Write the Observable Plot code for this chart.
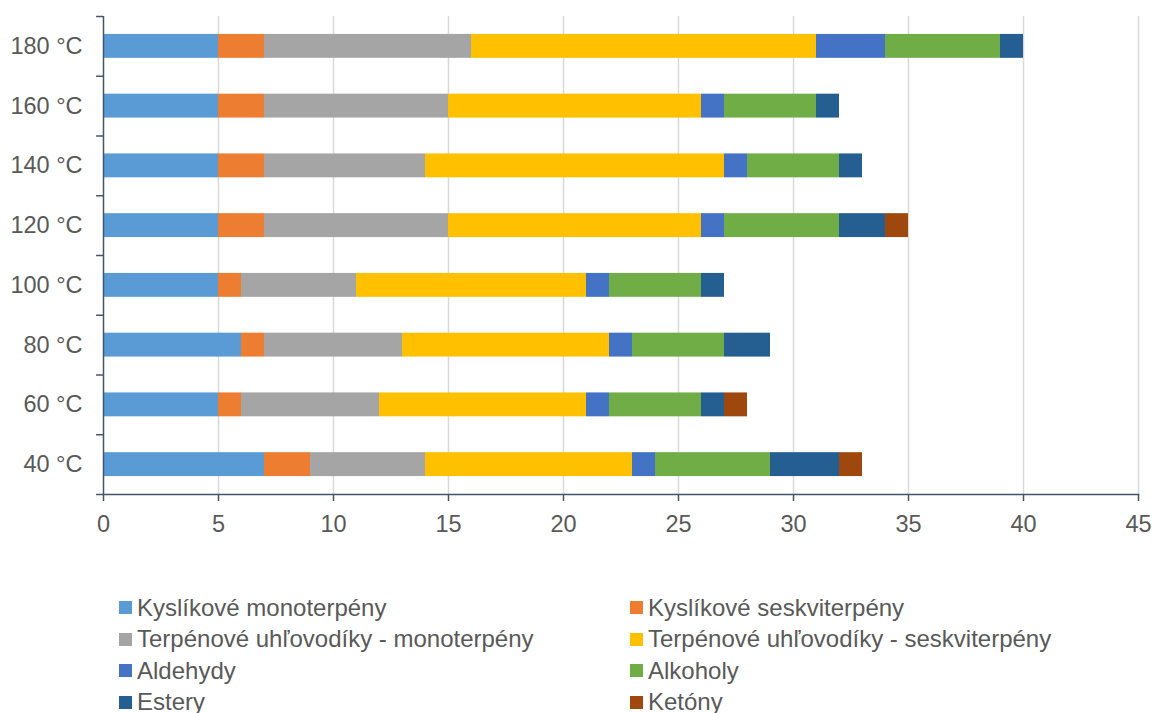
<!DOCTYPE html>
<html>
<head>
<meta charset="utf-8">
<script src="https://cdn.jsdelivr.net/npm/d3@7"></script>
<script src="https://cdn.jsdelivr.net/npm/@observablehq/plot@0.6"></script>
<style>
  html, body { margin: 0; padding: 0; background: #fff; overflow: hidden; }
  body { width: 1155px; height: 713px; font-family: "Liberation Sans", Arial, sans-serif; color: #595959; }
  #legend { display: grid; grid-template-columns: 511px auto; padding-left: 119px; margin-top: 47px; }
  .item { display: flex; align-items: center; height: 31.5px; font-size: 24px; white-space: nowrap; }
  .sw { width: 13px; height: 13px; margin-right: 5px; flex: none; }
</style>
</head>
<body>
<div id="chart"></div>
<div id="legend"></div>
<script>
const categories = ["40 °C", "60 °C", "80 °C", "100 °C", "120 °C", "140 °C", "160 °C", "180 °C"];
const seriesNames = [
  "Kyslíkové monoterpény",
  "Kyslíkové seskviterpény",
  "Terpénové uhľovodíky - monoterpény",
  "Terpénové uhľovodíky - seskviterpény",
  "Aldehydy",
  "Alkoholy",
  "Estery",
  "Ketóny"
];
const colors = ["#5B9BD5", "#ED7D31", "#A5A5A5", "#FFC000", "#4472C4", "#70AD47", "#255E91", "#9E480E"];
// values per series, in the order of categories (40 °C ... 180 °C)
const kyslikoveMono   = [7, 5, 6, 5, 5, 5, 5, 5];
const kyslikoveSeskvi = [2, 1, 1, 1, 2, 2, 2, 2];
const terpMono        = [5, 6, 6, 5, 8, 7, 8, 9];
const terpSeskvi      = [9, 9, 9, 10, 11, 13, 11, 15];
const aldehydy        = [1, 1, 1, 1, 1, 1, 1, 3];
const alkoholy        = [5, 4, 4, 4, 5, 4, 4, 5];
const estery          = [3, 1, 2, 1, 2, 1, 1, 1];
const ketony          = [1, 1, 0, 0, 1, 0, 0, 0];
const xTicks = [0, 5, 10, 15, 20, 25, 30, 35, 40, 45];

const seriesValues = [kyslikoveMono, kyslikoveSeskvi, terpMono, terpSeskvi, aldehydy, alkoholy, estery, ketony];
const data = [];
categories.forEach((c, ci) => {
  seriesNames.forEach((s, si) => {
    data.push({temp: c, series: s, value: seriesValues[si][ci]});
  });
});

const W = 1155, H = 545, mT = 16, mB = 51, mL = 103, mR = 17;
const step = (H - mT - mB) / categories.length;
const axisColor = "#44546A";
const textColor = "#595959";

const chart = Plot.plot({
  width: W, height: H,
  marginTop: mT, marginBottom: mB, marginLeft: mL, marginRight: mR,
  style: {fontFamily: "'Liberation Sans', Arial, sans-serif", fontSize: "23.5px", color: textColor, background: "#fff"},
  x: {domain: [0, 45], ticks: xTicks},
  y: {domain: categories.slice().reverse(), paddingInner: 0.6, paddingOuter: 0.3, round: false},
  color: {domain: seriesNames, range: colors},
  marks: [
    Plot.ruleX(xTicks.filter(d => d > 0), {stroke: "#D9D9D9", strokeWidth: 1.5}),
    Plot.barX(data, Plot.stackX({x: "value", y: "temp", fill: "series", order: seriesNames})),
    Plot.ruleY(categories, {y: d => d, x1: -0.3, x2: 0, dy: -step / 2, stroke: axisColor, strokeWidth: 1.5}),
    Plot.ruleY([categories[0]], {y: d => d, x1: -0.3, x2: 0, dy: step / 2, stroke: axisColor, strokeWidth: 1.5}),
    Plot.ruleX([0], {stroke: axisColor, strokeWidth: 1.5}),
    Plot.frame({anchor: "bottom", stroke: axisColor, strokeWidth: 1.5}),
    Plot.axisX({ticks: xTicks, tickSize: 7, tickPadding: 14, stroke: axisColor, strokeWidth: 1.5, fill: textColor, fontSize: 23.5, label: null}),
    Plot.axisY({tickSize: 0, tickPadding: 21, fill: textColor, fontSize: 23.5, label: null})
  ]
});
document.getElementById("chart").appendChild(chart);

const legend = document.getElementById("legend");
seriesNames.forEach((s, i) => {
  const item = document.createElement("div");
  item.className = "item";
  const sw = document.createElement("span");
  sw.className = "sw";
  sw.style.background = colors[i];
  const t = document.createElement("span");
  t.textContent = s;
  item.appendChild(sw);
  item.appendChild(t);
  legend.appendChild(item);
});
</script>
</body>
</html>
